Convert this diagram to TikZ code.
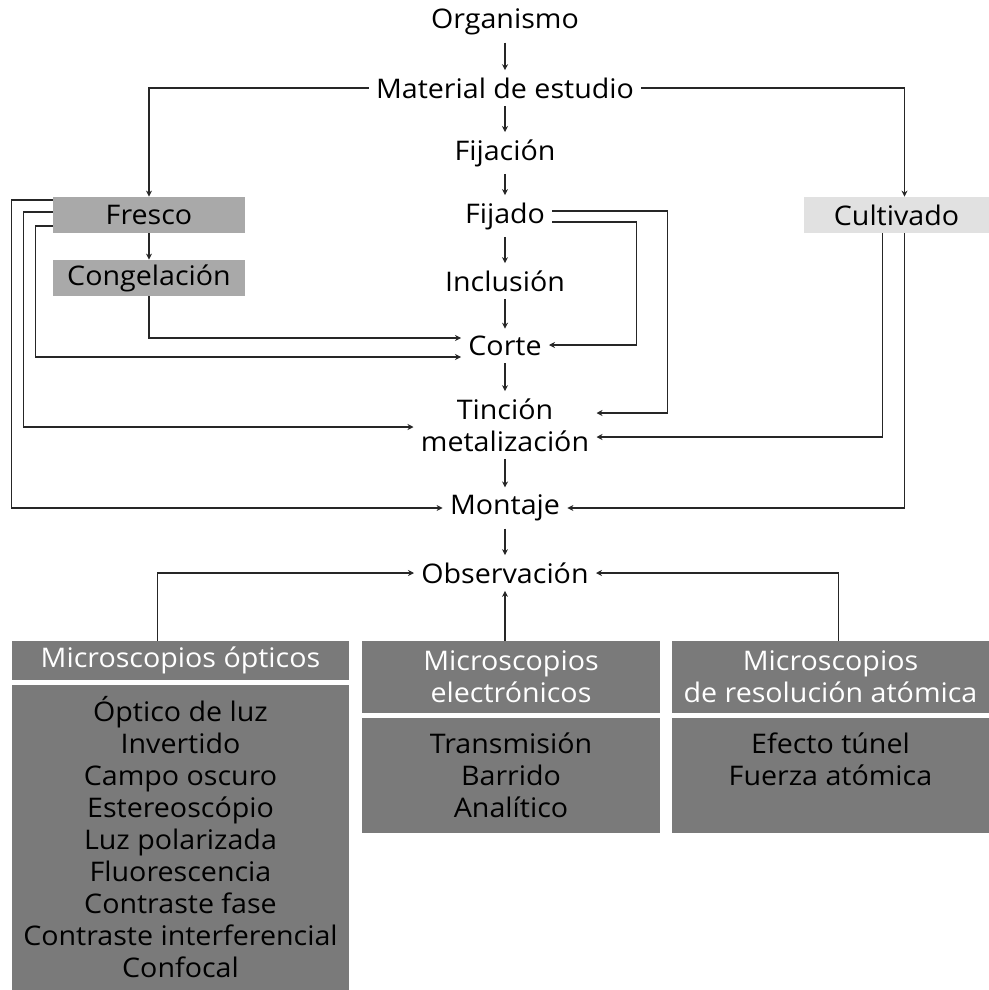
\documentclass[tikz,border=0pt]{standalone}
\usepackage{fontspec}
\setmainfont{Open Sans}[FakeStretch=1.06]
\usetikzlibrary{arrows.meta,calc}
\definecolor{gristabla}{HTML}{7A7A7A}
\definecolor{grismedio}{HTML}{A9A9A9}
\definecolor{grisclaro}{HTML}{E1E1E1}
\begin{document}
\begin{tikzpicture}[x=0.5pt, y=0.5pt, font=\fontsize{13.5}{16}\selectfont,
		every node/.style={inner sep=3.5pt},
		caja/.style={fill=grismedio, minimum width=96pt, minimum height=18pt, inner sep=0pt},
		cab/.style={fill=gristabla, text=white, align=center, inner sep=0pt},
		cuerpo/.style={fill=gristabla, align=center, inner sep=0pt},
		flecha/.style={-{Stealth[length=3pt, width=3pt]}, line width=0.6pt, black!85}]
		\useasboundingbox (0,0) rectangle (989,-990);

		\node (org) at (505, -22) {Organismo};
		\node (mat) at (505, -88) {Material de estudio};
		\node (fij) at (505, -153) {Fijación};
		\node (fdo) at (505, -216) {Fijado};
		\node (inc) at (505, -281) {Inclusión};
		\node (cor) at (505, -346) {Corte};
		\node[align=center] (tin) at (505, -425) {Tinción\\metalización};
		\node (mon) at (505, -508) {Montaje};
		\node (obs) at (505, -573) {Observación};

		\node[caja] (fresco) at (149, -215) {Fresco};
		\node[caja] (congel) at (149, -278) {Congelación};
		\node[caja, fill=grisclaro, minimum width=92.5pt] (cult) at (896.5, -215) {Cultivado};

		\node[cab, minimum width=168.5pt, minimum height=19.5pt] (cabOpt) at (180.5, -660.5) {Microscopios ópticos};
		\node[cuerpo, minimum width=168.5pt, minimum height=152.5pt] (cueOpt) at (180.5, -837.5)
		{Óptico de luz\\Invertido\\Campo oscuro\\Estereoscópio\\Luz polarizada\\Fluorescencia\\Contraste fase\\Contraste interferencial\\Confocal};
		\node[cab, minimum width=149pt, minimum height=36pt] (cabEle) at (511, -677) {Microscopios\\electrónicos};
		\node[cuerpo, minimum width=149pt, minimum height=57.5pt] (cueEle) at (511, -775.5) {Transmisión\\Barrido\\Analítico};
		\node[cab, minimum width=158.5pt, minimum height=36pt] (cabAto) at (830.5, -677) {Microscopios\\de resolución atómica};
		\node[cuerpo, minimum width=158.5pt, minimum height=57.5pt] (cueAto) at (830.5, -775.5) {Efecto túnel\\Fuerza atómica\\~};

		\path (org) edge[flecha] (mat)
		(mat) edge[flecha] (fij)
		(fij) edge[flecha] (fdo)
		(fdo) edge[flecha] (inc)
		(inc) edge[flecha] (cor)
		(cor) edge[flecha] (tin)
		(tin) edge[flecha] (mon)
		(mon) edge[flecha] (obs)
		(fresco) edge[flecha] (congel);

		% ramas del material
		\draw[flecha] (mat.west) -| (fresco.north);
		\draw[flecha] (mat.east) -| ($(cult.north)+(8,0)$);

		% fresco y congelacion
		\draw[flecha] (congel.south) |- ($(cor.west)+(0,8)$);
		\draw[flecha] ($(fresco.west)+(0,-11)$) -- ++(-17,0) |- ($(cor.west)+(0,-11)$);
		\draw[flecha] ($(fresco.west)+(0,3)$) -- ++(-29,0) |- ($(tin.west)+(0,-2)$);
		\draw[flecha] ($(fresco.west)+(0,15)$) -- ++(-41,0) |- (mon.west);

		% fijado
		\draw[flecha] ($(fdo.east)+(0,5)$) -- ++(115,0) |- ($(tin.east)+(0,12)$);
		\draw[flecha] ($(fdo.east)+(0,-6)$) -- ++(84,0) |- ($(cor.east)+(0,1)$);

		% cultivado
		\draw[flecha] ($(cult.south)+(-14,0)$) |- ($(tin.east)+(0,-12)$);
		\draw[flecha] ($(cult.south)+(8,0)$) |- (mon.east);

		% microscopios
		\draw[flecha] ($(cabOpt.north)+(-23,0)$) |- (obs.west);
		\draw[flecha] ($(cabAto.north)+(8,0)$) |- (obs.east);
		\draw[flecha] (obs |- cabEle.north) -- (obs.south);
	\end{tikzpicture}
\end{document}
